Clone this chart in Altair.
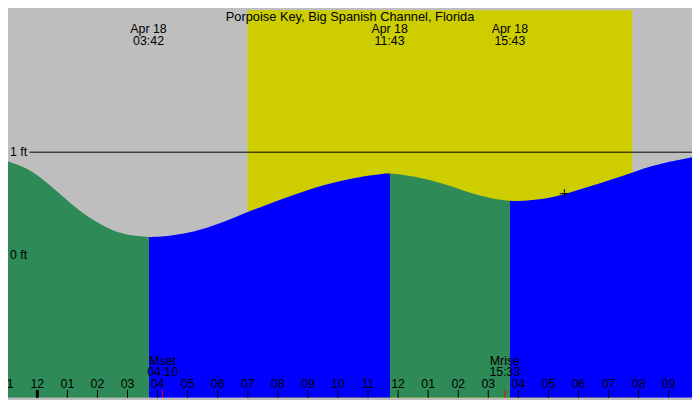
import altair as alt
import pandas as pd

W, H = 692, 392
SX, SY = W / 700, H / 400
FONT = "Liberation Sans"

# Tide curve (hours after midnight Apr 18, height in ft)
tide_hours = [-0.975, -0.650, -0.325, 0.0, 0.325, 0.650, 0.975, 1.300, 1.625, 1.950,
              2.275, 2.600, 2.925, 3.347, 3.700, 4.225, 4.875, 5.525, 6.175, 6.987,
              7.637, 8.287, 8.937, 9.587, 10.237, 10.887, 11.537, 11.717, 12.405,
              13.055, 13.812, 14.300, 14.950, 15.717, 16.467, 17.225, 17.982, 18.742,
              19.500, 20.150, 20.800, 21.775]
tide_ft = [0.911, 0.880, 0.836, 0.779, 0.701, 0.623, 0.538, 0.457, 0.388, 0.326,
           0.272, 0.232, 0.204, 0.185, 0.176, 0.181, 0.207, 0.254, 0.319, 0.420,
           0.491, 0.561, 0.629, 0.685, 0.732, 0.770, 0.792, 0.795, 0.773,
           0.732, 0.669, 0.613, 0.561, 0.521, 0.532, 0.566, 0.632, 0.701,
           0.770, 0.842, 0.895, 0.951]

# High / low events
event_hours = [3.7, 11.717, 15.717]
event_dates = ["Apr 18", "Apr 18", "Apr 18"]
event_times = ["03:42", "11:43", "15:43"]

# Daylight
sun_rise, sun_set = 6.99, 19.79

# Moon
moon_hours = [4.167, 15.55]
moon_names = ["Mset", "Mrise"]
moon_times = ["04:10", "15:33"]

# Hour ticks
tick_hours = list(range(-1, 22))
tick_labels = ["11", "12", "01", "02", "03", "04", "05", "06", "07", "08", "09", "10",
               "11", "12", "01", "02", "03", "04", "05", "06", "07", "08", "09"]

# Datum lines
datum_ft = [1, 0]
datum_labels = ["1 ft", "0 ft"]

# Current time marker
now_hour, now_ft = 17.53, 0.598

title_text = "Porpoise Key, Big Spanish Channel, Florida"

GRAY, YELLOW, GREEN, BLUE = "#bebebe", "#cdcd00", "#2e8b57", "#0000ff"

Y_MIN, Y_MAX = (253 - 400) / 106.5, 253 / 106.5
xs = alt.Scale(domain=[tide_hours[0], tide_hours[-1]], nice=False, zero=False)
ys = alt.Scale(domain=[Y_MIN, Y_MAX], nice=False, zero=False)

def X(field):
    return alt.X(field, type="quantitative", scale=xs, axis=None)

def Y(field):
    return alt.Y(field, type="quantitative", scale=ys, axis=None)

# gradient stops: falling = green, rising = blue
span = tide_hours[-1] - tide_hours[0]
offs = [(h - tide_hours[0]) / span for h in event_hours]
phase_colors = [GREEN, BLUE, GREEN, BLUE]
stops = []
bounds = [0.0] + offs + [1.0]
for i, c in enumerate(phase_colors):
    stops.append(alt.GradientStop(color=c, offset=bounds[i]))
    stops.append(alt.GradientStop(color=c, offset=bounds[i + 1]))
grad = alt.Gradient(gradient="linear", stops=stops, x1=0, x2=1, y1=0, y2=0)

tide_df = pd.DataFrame({"h": tide_hours, "ft": tide_ft})
day_df = pd.DataFrame({"start": [sun_rise], "end": [sun_set]})
ev_df = pd.DataFrame({"h": event_hours, "d": event_dates, "t": event_times})
moon_df = pd.DataFrame({"h": moon_hours, "n": moon_names, "t": moon_times})
tick_df = pd.DataFrame({"h": tick_hours, "lab": tick_labels})
mid_df = pd.DataFrame({"h": [0]})
datum_df = pd.DataFrame({"ft": datum_ft, "lab": datum_labels})
line_df = pd.DataFrame({"ft": [datum_ft[0]]})
now_df = pd.DataFrame({"h": [now_hour], "ft": [now_ft]})
title_df = pd.DataFrame({"t": [title_text]})

FS = 12.5
LH = 12 * SY

def txt(df, **kw):
    return alt.Chart(df).mark_text(align=kw.pop("align", "center"), baseline="middle",
                                   fontSize=kw.pop("fontSize", FS), font=FONT,
                                   color="black", lineBreak="\n", lineHeight=LH)

day = alt.Chart(day_df).mark_rect(color=YELLOW).encode(
    x=X("start"), x2="end", y=alt.value(0), y2=alt.value(H))

area = alt.Chart(tide_df).mark_area(interpolate="basis", color=grad, clip=True).encode(
    x=X("h"), y=Y("ft"), y2=alt.datum(Y_MIN))

line = alt.Chart(line_df).mark_rule(color="black", strokeWidth=1).encode(
    x=alt.value(22 * SX), x2=alt.value(W), y=Y("ft"))

datum_txt = txt(datum_df, align="left").encode(
    x=alt.value(2 * SX), y=Y("ft"), text="lab:N")

title = txt(title_df, fontSize=13).encode(
    x=alt.value(350 * SX), y=alt.value(7 * SY), text="t:N")

ev_lab = txt(ev_df).transform_calculate(
    lab="datum.d + '\\n' + datum.t"
).encode(x=X("h"), y=alt.value(19.8 * SY), text="lab:N")

ticks = alt.Chart(tick_df).mark_rule(color="black", strokeWidth=1).encode(
    x=X("h"), y=alt.value(392 * SY), y2=alt.value(H))
mid = alt.Chart(mid_df).mark_rule(color="black", strokeWidth=3).encode(
    x=X("h"), y=alt.value(392 * SY), y2=alt.value(H))
moon_ticks = alt.Chart(moon_df).mark_rule(color="#ff0000", strokeWidth=1).encode(
    x=X("h"), y=alt.value(392 * SY), y2=alt.value(H))

tick_txt = txt(tick_df).encode(x=X("h"), y=alt.value(385.5 * SY), text="lab:N")

moon_lab = txt(moon_df).transform_calculate(
    lab="datum.n + '\\n' + datum.t"
).encode(x=X("h"), y=alt.value(361.8 * SY), text="lab:N")

cross = alt.Chart(now_df).mark_point(
    shape="M-1,0L1,0M0,-1L0,1", size=81, filled=False, color="black",
    strokeWidth=1, opacity=1).encode(x=X("h"), y=Y("ft"))

chart = alt.layer(
    day, area, line, datum_txt, title, ev_lab,
    ticks, mid, moon_ticks, tick_txt, moon_lab, cross
).properties(
    width=W, height=H, padding=0, background=GRAY,
    autosize=alt.AutoSizeParams(type="none")
).configure_view(stroke=None)

chart.save("out.html", embed_options={"renderer": "svg", "actions": False})
